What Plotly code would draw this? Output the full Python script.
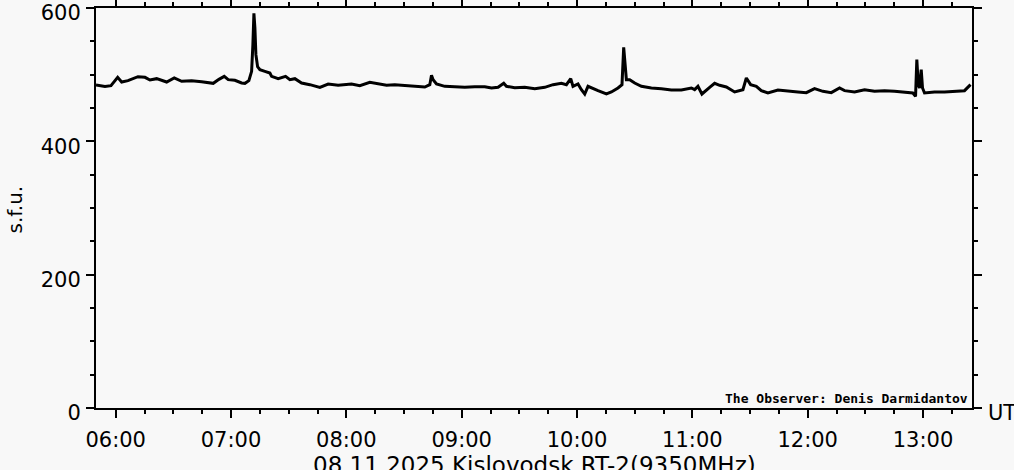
import plotly.graph_objects as go

DATE = "2025-11-08"

times = [
    "05:49:46", "05:54:26", "05:57:34", "05:59:38", "06:01:02", "06:03:07", "06:06:24", "06:11:36",
    "06:15:14", "06:17:50", "06:21:19", "06:26:31", "06:30:28", "06:34:19", "06:39:31", "06:44:43",
    "06:50:45", "06:53:43", "06:56:28", "06:58:33", "07:02:02", "07:05:31", "07:07:14", "07:09:18",
    "07:10:43", "07:11:23", "07:11:55", "07:12:26", "07:12:57", "07:13:50", "07:15:02", "07:17:38",
    "07:20:14", "07:21:07", "07:24:33", "07:28:23", "07:30:38", "07:33:14", "07:36:43", "07:41:01",
    "07:46:13", "07:50:32", "07:55:44", "08:02:42", "08:07:01", "08:12:13", "08:16:32", "08:20:54",
    "08:25:13", "08:30:25", "08:35:37", "08:40:49", "08:43:25", "08:44:18", "08:45:08", "08:46:54",
    "08:51:13", "08:56:25", "09:01:37", "09:06:49", "09:12:01", "09:15:30", "09:18:56", "09:21:53",
    "09:23:17", "09:27:37", "09:32:49", "09:38:01", "09:43:13", "09:47:32", "09:51:53", "09:54:29",
    "09:56:44", "09:57:55", "10:00:31", "10:02:17", "10:04:01", "10:05:43", "10:08:19", "10:10:55",
    "10:15:17", "10:17:53", "10:21:19", "10:23:24", "10:24:17", "10:24:48", "10:25:41", "10:27:24",
    "10:30:00", "10:33:29", "10:38:41", "10:43:53", "10:49:05", "10:54:17", "10:59:29", "11:01:12",
    "11:02:55", "11:04:59", "11:07:17", "11:09:00", "11:11:36", "11:14:12", "11:17:41", "11:22:00",
    "11:26:19", "11:28:05", "11:30:19", "11:33:17", "11:35:53", "11:39:19", "11:44:31", "11:49:43",
    "11:54:55", "11:59:17", "12:03:35", "12:07:55", "12:12:17", "12:16:35", "12:19:11", "12:24:23",
    "12:29:35", "12:34:47", "12:39:59", "12:45:11", "12:50:23", "12:54:42", "12:56:07", "12:56:47",
    "12:57:31", "12:58:11", "12:59:04", "12:59:45", "13:00:47", "13:05:59", "13:11:11", "13:16:23",
    "13:21:35", "13:24:43",
]

flux = [
    484.5, 482.4, 483.5, 491, 496, 489, 491, 497,
    496, 492, 494, 489, 495, 490, 491, 489.5,
    487, 493, 497.5, 492.5, 491.5, 487.5, 487, 491,
    505, 545, 592, 570, 530, 512, 507.5, 505,
    502.5, 497.5, 494, 497.5, 492.5, 494, 487.5, 485,
    481, 486, 484, 486, 483.5, 488.5, 486, 484,
    485, 484, 483.5, 481.5, 485, 499, 492.5, 486,
    482.5, 481.5, 481, 482, 482, 480, 481, 487,
    482.5, 480.5, 481, 479, 481, 485, 487, 485,
    494, 482.5, 486, 477.5, 471, 482.5, 479, 476,
    471, 474, 480, 485, 541, 517.5, 492.5, 492.5,
    487.5, 482.5, 480, 479, 477, 477, 480, 477.5,
    482.5, 471, 477.5, 481, 487, 484, 481.5, 474,
    477.5, 495, 485, 482.5, 476, 472.5, 477, 476,
    474, 473, 479, 475, 473, 480, 476, 474,
    477.5, 475, 476, 475, 474, 472.5, 467.5, 522.5,
    485, 480, 507.5, 480, 472.5, 474, 474, 475,
    476, 485,
]

y_ticks = [0, 200, 400, 600]
title_text = "08.11.2025 Kislovodsk RT-2(9350MHz)"
y_title = "s.f.u."
x_unit = "UT"
observer = "The Observer: Denis Darmidantov"

x_vals = [f"{DATE} {t}" for t in times]

FONT = "DejaVu Sans"
BG = "#f8f8f8"
X_RANGE = [f"{DATE} 05:49:46", f"{DATE} 13:25:29"]

fig = go.Figure()
fig.add_trace(go.Scatter(
    x=x_vals, y=flux, mode="lines",
    line=dict(color="black", width=3),
    showlegend=False, hoverinfo="skip",
))
# invisible copy bound to the top axis so that it gets drawn with its ticks
fig.add_trace(go.Scatter(
    x=x_vals, y=flux, mode="lines", xaxis="x2",
    line=dict(color="rgba(0,0,0,0)", width=0),
    showlegend=False, hoverinfo="skip",
))

fig.update_layout(
    width=1014, height=470,
    margin=dict(l=96, r=41.5, t=8.3, b=61.7, autoexpand=False),
    paper_bgcolor=BG, plot_bgcolor=BG,
    font=dict(family=FONT, size=21, color="black"),
    showlegend=False,
    xaxis2=dict(
        type="date", overlaying="x", side="top", anchor="y", automargin=False,
        range=X_RANGE, showgrid=False, zeroline=False, showticklabels=False,
        showline=True, linecolor="black", linewidth=2,
        ticks="outside", ticklen=7, tickwidth=2, tickcolor="black",
        tick0=f"{DATE} 00:00", dtick=3600000,
        minor=dict(ticks="outside", ticklen=4, tickwidth=2, tickcolor="black",
                   dtick=900000, tick0=f"{DATE} 00:00", showgrid=False),
    ),
)

fig.update_xaxes(
    selector=dict(anchor="y", overlaying=None),
)
fig.layout.xaxis.update(
    type="date", automargin=False,
    range=X_RANGE,
    showgrid=False, zeroline=False,
    showline=True, linecolor="black", linewidth=2, mirror="ticks",
    ticks="outside", ticklen=8, tickwidth=2, tickcolor="black",
    tick0=f"{DATE} 00:00", dtick=3600000, tickformat="%H:%M",
    ticklabelstandoff=4,
    minor=dict(ticks="outside", ticklen=4, tickwidth=2, tickcolor="black",
               dtick=900000, tick0=f"{DATE} 00:00", showgrid=False),
    tickfont=dict(family=FONT, size=21),
)

fig.update_yaxes(
    range=[0, 600], automargin=False,
    showgrid=False, zeroline=False,
    showline=True, linecolor="black", linewidth=2, mirror="ticks",
    ticks="outside", ticklen=8, tickwidth=2, tickcolor="black",
    tickvals=y_ticks, ticktext=[str(v) for v in y_ticks],
    ticklabelstandoff=1, ticklabelshift=5, ticklabeloverflow="allow",
    minor=dict(ticks="outside", ticklen=4, tickwidth=2, tickcolor="black",
               dtick=50, tick0=0, showgrid=False),
    tickfont=dict(family=FONT, size=21),
)

fig.add_annotation(
    text=y_title, textangle=-90, xref="paper", yref="paper",
    x=-0.093, y=0.495, xanchor="center", yanchor="middle",
    showarrow=False, font=dict(family=FONT, size=20),
)
fig.add_annotation(
    text=x_unit, xref="paper", yref="paper",
    x=1.0155, y=-0.013, xanchor="left", yanchor="middle",
    showarrow=False, font=dict(family=FONT, size=21),
)
fig.add_annotation(
    text=title_text, xref="paper", yref="paper",
    x=0.5, y=-0.142, xanchor="center", yanchor="middle",
    showarrow=False, font=dict(family=FONT, size=23),
)
fig.add_annotation(
    text=observer, xref="paper", yref="paper",
    x=0.9975, y=0.025, xanchor="right", yanchor="middle",
    showarrow=False, font=dict(family="DejaVu Sans Mono", size=13, weight="bold"),
)

fig.write_html(
    "out.html",
    config={"displayModeBar": False},
    post_script="document.body.style.margin='0';document.body.style.padding='0';",
)
